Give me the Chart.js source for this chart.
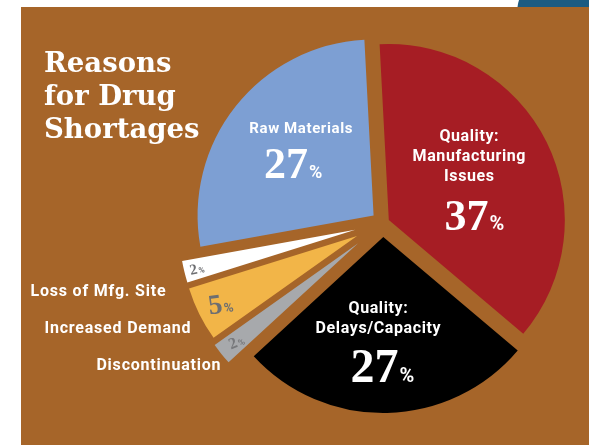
<!DOCTYPE html>
<html>
<head>
<meta charset="utf-8">
<script src="https://cdn.jsdelivr.net/npm/chart.js@4.4.1/dist/chart.umd.min.js"></script>
<style>
  html, body { margin: 0; padding: 0; background: #ffffff; }
  canvas { display: block; }
</style>
</head>
<body>
<canvas id="chart" width="589" height="445"></canvas>
<script>
// Reasons for drug shortages: share of reported cases, in percent
const categories = [
  'Quality: Manufacturing Issues',
  'Quality: Delays/Capacity',
  'Discontinuation',
  'Increased Demand',
  'Loss of Mfg. Site',
  'Raw Materials'
];
const shares = [37, 27, 2, 5, 2, 27];
// names as they are broken inside the large wedges (null = named outside)
const insideNames = [
  ['Quality:', 'Manufacturing', 'Issues'],
  ['Quality:', 'Delays/Capacity'],
  null, null, null,
  ['Raw Materials']
];
const titleLines = ['Reasons', 'for Drug', 'Shortages'];

// ---- styling ----
const sliceColors = ['#A61D24', '#000000', '#A7A9AC', '#F2B548', '#FFFFFF', '#7D9FD3'];
const explode = [6.5, 14, 32, 29, 28.5, 12];   // px each wedge is pulled out along its middle
const BROWN = '#A66529';
const SANS = 'Roboto, "Liberation Sans", sans-serif';
const SERIF = '"Liberation Serif", "DejaVu Serif", serif';

// label layout per wedge (distance is a fraction of the radius from the wedge tip)
const bigLabels = {
  0: { frac: 0.517, nameDx: -1, nameDy: -39, gap: 20, nameSize: 16, numDx: 4,  numDy: 50, numSize: 44, pctSize: 20 },
  1: { frac: 0.571, nameDx: -7, nameDy: -24, gap: 20, nameSize: 16, numDx: -3, numDy: 45, numSize: 48, pctSize: 20 },
  5: { frac: 0.554, nameDx: 4,  nameDy: -22, gap: 20, nameSize: 15, numDx: -4, numDy: 23, numSize: 44, pctSize: 18 }
};
const smallLabels = {
  2: { frac: 0.89,  size: 16, pctSize: 9,  rot: -22, color: '#77787B', outDx: 0,   outDy: 16 },
  3: { frac: 0.866, size: 28, pctSize: 13, rot: -8,  color: '#6D6E71', outDx: -8,  outDy: 19 },
  4: { frac: 0.927, size: 15, pctSize: 8,  rot: -12, color: '#6D6E71', outDx: -18, outDy: 24 }
};

function wedgeGeometry(arc, i) {
  const mid = (arc.startAngle + arc.endAngle) / 2;
  const c = Math.cos(mid), s = Math.sin(mid);
  const tipX = arc.x + c * explode[i], tipY = arc.y + s * explode[i];
  return { mid, c, s, tipX, tipY, r: arc.outerRadius };
}

function drawNumber(ctx, x, baseline, value, numFont, pctFont) {
  const txt = String(value);
  ctx.font = numFont;
  const wn = ctx.measureText(txt).width;
  ctx.font = pctFont;
  const wp = ctx.measureText('%').width;
  const left = x - (wn + wp + 1) / 2;
  ctx.textAlign = 'left';
  ctx.font = numFont;
  ctx.fillText(txt, left, baseline);
  ctx.font = pctFont;
  ctx.fillText('%', left + wn + 1, baseline);
}

const backdrop = {
  id: 'backdrop',
  beforeDraw(chart) {
    const ctx = chart.ctx;
    ctx.save();
    ctx.fillStyle = '#ffffff';
    ctx.fillRect(0, 0, chart.width, chart.height);
    ctx.fillStyle = BROWN;
    ctx.fillRect(21, 7, chart.width - 21, chart.height - 7);
    // corner of the neighbouring blue panel
    ctx.fillStyle = '#1B5B82';
    ctx.beginPath();
    ctx.moveTo(519, 0);
    ctx.lineTo(chart.width, 0);
    ctx.lineTo(chart.width, 7);
    ctx.lineTo(517.5, 7);
    ctx.quadraticCurveTo(518, 3, 519, 0);
    ctx.fill();
    ctx.restore();
  }
};

// draws the wedges pulled apart along their middle angle
const explodedWedges = {
  id: 'explodedWedges',
  beforeDatasetDraw(chart, args) {
    const ctx = chart.ctx;
    args.meta.data.forEach((arc, i) => {
      const g = wedgeGeometry(arc, i);
      ctx.save();
      ctx.translate(g.c * explode[i], g.s * explode[i]);
      arc.draw(ctx, chart.chartArea);
      ctx.restore();
    });
    return false;
  }
};

const labelsAndTitle = {
  id: 'labelsAndTitle',
  afterDatasetsDraw(chart) {
    const ctx = chart.ctx;
    const arcs = chart.getDatasetMeta(0).data;
    ctx.save();
    ctx.textBaseline = 'alphabetic';

    // title
    ctx.fillStyle = '#ffffff';
    ctx.textAlign = 'left';
    ctx.font = 'bold 27.5px "DejaVu Serif", serif';
    titleLines.forEach((t, k) => ctx.fillText(t, 44, 72 + k * 33));

    arcs.forEach((arc, i) => {
      const g = wedgeGeometry(arc, i);
      if (bigLabels[i]) {
        const L = bigLabels[i];
        const ax = g.tipX + g.c * g.r * L.frac;
        const ay = g.tipY + g.s * g.r * L.frac;
        ctx.fillStyle = '#ffffff';
        ctx.textAlign = 'center';
        ctx.font = `bold ${L.nameSize}px ${SANS}`;
        ctx.letterSpacing = '0.6px';
        insideNames[i].forEach((line, k) => {
          ctx.fillText(line, ax + L.nameDx, ay + L.nameDy + k * L.gap);
        });
        ctx.letterSpacing = '0px';
        drawNumber(ctx, ax + L.numDx, ay + L.numDy,
          shares[i], `bold ${L.numSize}px ${SERIF}`, `bold ${L.pctSize}px ${SANS}`);
      } else if (smallLabels[i]) {
        const S = smallLabels[i];
        const px = g.tipX + g.c * g.r * S.frac;
        const py = g.tipY + g.s * g.r * S.frac;
        ctx.save();
        ctx.translate(px, py);
        ctx.rotate(S.rot * Math.PI / 180);
        ctx.fillStyle = S.color;
        drawNumber(ctx, 0, S.size * 0.33, shares[i],
          `bold ${S.size}px ${SERIF}`, `bold ${S.pctSize}px ${SANS}`);
        ctx.restore();
        // category name beside the wedge end
        const ox = g.tipX + g.c * g.r + S.outDx;
        const oy = g.tipY + g.s * g.r + S.outDy;
        ctx.fillStyle = '#ffffff';
        ctx.textAlign = 'right';
        ctx.font = `bold 16px ${SANS}`;
        ctx.letterSpacing = '0.8px';
        ctx.fillText(categories[i], ox, oy);
        ctx.letterSpacing = '0px';
      }
    });
    ctx.restore();
  }
};

new Chart(document.getElementById('chart'), {
  type: 'pie',
  data: {
    labels: categories,
    datasets: [{
      data: shares,
      backgroundColor: sliceColors,
      borderWidth: 0,
      clip: false
    }]
  },
  options: {
    responsive: false,
    animation: false,
    rotation: -3,
    radius: 176,
    layout: { padding: { left: 190, right: 13, top: 10, bottom: 9 } },
    plugins: {
      legend: { display: false },
      tooltip: { enabled: false }
    }
  },
  plugins: [backdrop, explodedWedges, labelsAndTitle]
});
</script>
</body>
</html>
